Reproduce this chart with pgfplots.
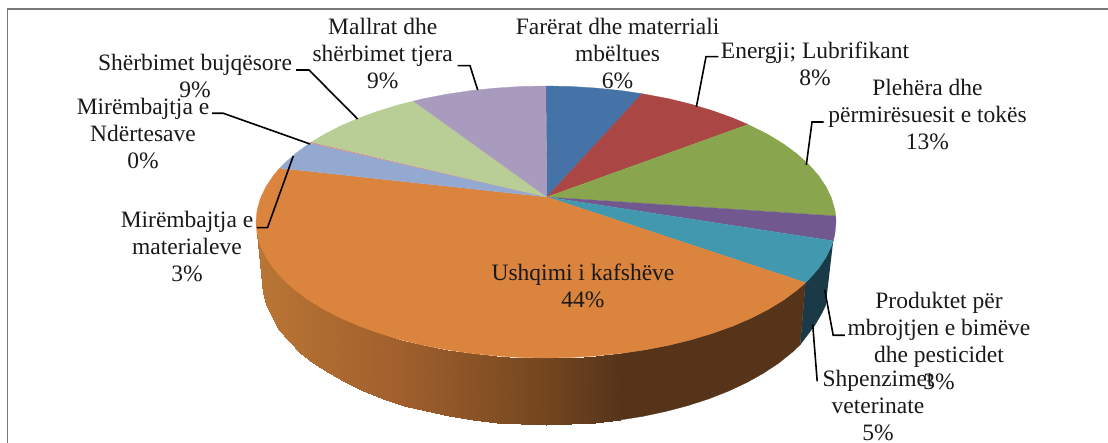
\documentclass[border=0pt]{standalone}
\usepackage{fontspec}
\setmainfont{Liberation Serif}
\usepackage{pgfplots}
\pgfplotsset{compat=1.18}

\definecolor{cBlue}{HTML}{4572A7}
\definecolor{cRed}{HTML}{AA4643}
\definecolor{cGreen}{HTML}{89A54E}
\definecolor{cPurple}{HTML}{71588F}
\definecolor{cTeal}{HTML}{4198AF}
\definecolor{cOrange}{HTML}{DB843D}
\definecolor{cLBlue}{HTML}{93A9CF}
\definecolor{cPink}{HTML}{D19392}
\definecolor{cLGreen}{HTML}{B9CD96}
\definecolor{cLPurple}{HTML}{A99BBD}
\definecolor{cSideTeal}{RGB}{26,58,71}
\definecolor{cSideDark}{RGB}{86,52,26}

\pgfplotsset{
  wedge/.style={fill=#1, draw=#1, line width=0.3pt, mark=none},
  leader/.style={draw=black, line width=1.6pt, mark=none, line join=miter},
}
\tikzset{lab/.style={align=center, inner sep=0pt, text=black!90!white,
  font=\fontsize{23.5}{27}\selectfont}}

\begin{document}
\begin{tikzpicture}
\useasboundingbox (0,0) rectangle (1108pt,443pt);
\begin{axis}[
  anchor=south west, at={(0,0)},
  width=1108pt, height=443pt, scale only axis,
  xmin=0, xmax=1108, ymin=0, ymax=443,
  y dir=reverse,
  axis lines=none,
  colormap={side}{rgb255(0pt)=(185,117,52); rgb255(14pt)=(160,95,45);
    rgb255(28pt)=(116,71,31); rgb255(36pt)=(86,52,26); rgb255(55pt)=(86,52,26)},
  point meta min=262, point meta max=812,
]
% frame
\addplot[draw=gray!95!black, line width=1.6pt, mark=none] coordinates {(7.5,443) (7.5,9) (1108,9)};

% side walls
\addplot[wedge=cSideTeal] coordinates {
  (833.2,240.9) (831.6,245.6) (826.1,257.2) (818.5,268.5) (808.8,279.5) (805.5,282.7)
  (800.2,344.7) (806,337) (815,325) (822,313) (825.7,305.2)
};
\addplot[wedge=cSideDark] coordinates {
  (805.5,282.7) (797.1,290) (783.6,300) (768.2,309.4) (751.1,318.2) (732.4,326.2)
  (712.3,333.4) (691,339.8) (668.6,345.3) (645.2,349.8) (621.1,353.4)
  (619.5,420.1) (643.1,416.3) (666,411.4) (688,405.6) (708.9,398.8) (728.6,391.1)
  (746.8,382.5) (763.5,373.2) (778.6,363.2) (792,352.5) (800.2,344.7)
};
\addplot[patch, patch type=rectangle, shader=interp, point meta=x] table {
x y
621.1 353.4
596.3 355.9
595.3 422.8
619.5 420.1
596.3 355.9
571.3 357.5
570.8 424.4
595.3 422.8
571.3 357.5
546 358
546 425
570.8 424.4
546 358
520.7 357.5
521.2 424.4
546 425
520.7 357.5
495.7 355.9
496.7 422.8
521.2 424.4
495.7 355.9
470.9 353.4
472.5 420.1
496.7 422.8
470.9 353.4
446.8 349.8
448.9 416.3
472.5 420.1
446.8 349.8
423.4 345.3
426 411.4
448.9 416.3
423.4 345.3
401 339.8
404 405.6
426 411.4
401 339.8
379.7 333.4
383.1 398.8
404 405.6
379.7 333.4
359.6 326.2
363.4 391.1
383.1 398.8
359.6 326.2
340.9 318.2
345.2 382.5
363.4 391.1
340.9 318.2
323.8 309.4
328.5 373.2
345.2 382.5
323.8 309.4
308.4 300
313.4 363.2
328.5 373.2
308.4 300
294.9 290
300 352.5
313.4 363.2
294.9 290
283.2 279.5
288.6 341.3
300 352.5
283.2 279.5
273.5 268.5
279.1 329.6
288.6 341.3
273.5 268.5
265.9 257.2
271.7 317.5
279.1 329.6
265.9 257.2
260.4 245.6
266.3 305.2
271.7 317.5
260.4 245.6
257.1 233.9
263.1 292.6
266.3 305.2
257.1 233.9
256 222
262 280
263.1 292.6
};

% top face, apex at (547,197)
\addplot[wedge=cBlue] coordinates {(547,197) (546,86) (571.3,86.5) (596.3,88.1) (621.1,90.6) (642,93.7)};
\addplot[wedge=cRed] coordinates {(547,197) (642,93.7) (668.6,98.7) (691,104.2) (712.3,110.6) (732.4,117.8) (748.1,124.5)};
\addplot[wedge=cGreen] coordinates {(547,197) (748.1,124.5) (768.2,134.6) (783.6,144) (797.1,154) (808.8,164.5) (818.5,175.5) (826.1,186.8) (831.6,198.4) (834.9,210.1) (835.7,216)};
\addplot[wedge=cPurple] coordinates {(547,197) (835.7,216) (836,222) (834.9,233.9) (833.2,240.9)};
\addplot[wedge=cTeal] coordinates {(547,197) (833.2,240.9) (831.6,245.6) (826.1,257.2) (818.5,268.5) (808.8,279.5) (805.5,282.7)};
\addplot[wedge=cOrange] coordinates {
  (547,197) (805.5,282.7) (797.1,290) (783.6,300) (768.2,309.4) (751.1,318.2) (732.4,326.2)
  (712.3,333.4) (691,339.8) (668.6,345.3) (645.2,349.8) (621.1,353.4) (596.3,355.9)
  (571.3,357.5) (546,358) (520.7,357.5) (495.7,355.9) (470.9,353.4) (446.8,349.8)
  (423.4,345.3) (401,339.8) (379.7,333.4) (359.6,326.2) (340.9,318.2) (323.8,309.4)
  (308.4,300) (294.9,290) (283.2,279.5) (273.5,268.5) (265.9,257.2) (260.4,245.6)
  (257.1,233.9) (256,222) (257.1,210.1) (260.4,198.4) (265.9,186.8) (273.5,175.5) (279.7,168.1)
};
\addplot[wedge=cLBlue] coordinates {(547,197) (279.7,168.1) (283.2,164.5) (294.9,154) (308.4,144) (309.9,143)};
\addplot[wedge=cPink] coordinates {(547,197) (309.9,143) (311.5,142)};
\addplot[wedge=cLGreen] coordinates {(547,197) (311.5,142) (323.8,134.6) (340.9,125.8) (359.6,117.8) (379.7,110.6) (401,104.2) (413.5,101.1)};
\addplot[wedge=cLPurple] coordinates {(547,197) (413.5,101.1) (423.4,98.7) (446.8,94.2) (470.9,90.6) (495.7,88.1) (520.7,86.5) (546,86)};

% leader lines
\addplot[leader] coordinates {(457.6,65.7) (470,65.7) (477.7,90)};
\addplot[leader] coordinates {(296,70) (309,70) (357.6,119)};
\addplot[leader] coordinates {(212,113.3) (223.3,113.3) (310,144)};
\addplot[leader] coordinates {(293.3,156) (267.5,227.7) (257,227.7)};
\addplot[leader] coordinates {(718.3,56.7) (706,56.7) (696.4,106.7)};
\addplot[leader] coordinates {(823.6,122) (812,122) (806.3,165)};
\addplot[leader] coordinates {(844.8,335.3) (833.2,335.3) (824.7,289.7)};
\addplot[leader] coordinates {(817.2,381.3) (812.7,324.7)};

% labels
\node[lab] at (axis cs:382.7,54) {Mallrat dhe\\shërbimet tjera\\9\%};
\node[lab] at (axis cs:195,76) {Shërbimet bujqësore\\9\%};
\node[lab] at (axis cs:143,134) {Mirëmbajtja e\\Ndërtesave\\0\%};
\node[lab] at (axis cs:187,247) {Mirëmbajtja e\\materialeve\\3\%};
\node[lab] at (axis cs:617.6,54) {Farërat dhe materriali\\mbëltues\\6\%};
\node[lab] at (axis cs:815,63.5) {Energji; Lubrifikant\\8\%};
\node[lab] at (axis cs:927.5,115) {Plehëra dhe\\përmirësuesit e tokës\\13\%};
\node[lab] at (axis cs:939,341) {Produktet për\\mbrojtjen e bimëve\\dhe pesticidet\\3\%};
\node[lab] at (axis cs:878,406) {Shpenzimet\\veterinate\\5\%};
\node[lab] at (axis cs:583,286) {Ushqimi i kafshëve\\44\%};
\end{axis}
\end{tikzpicture}
\end{document}
